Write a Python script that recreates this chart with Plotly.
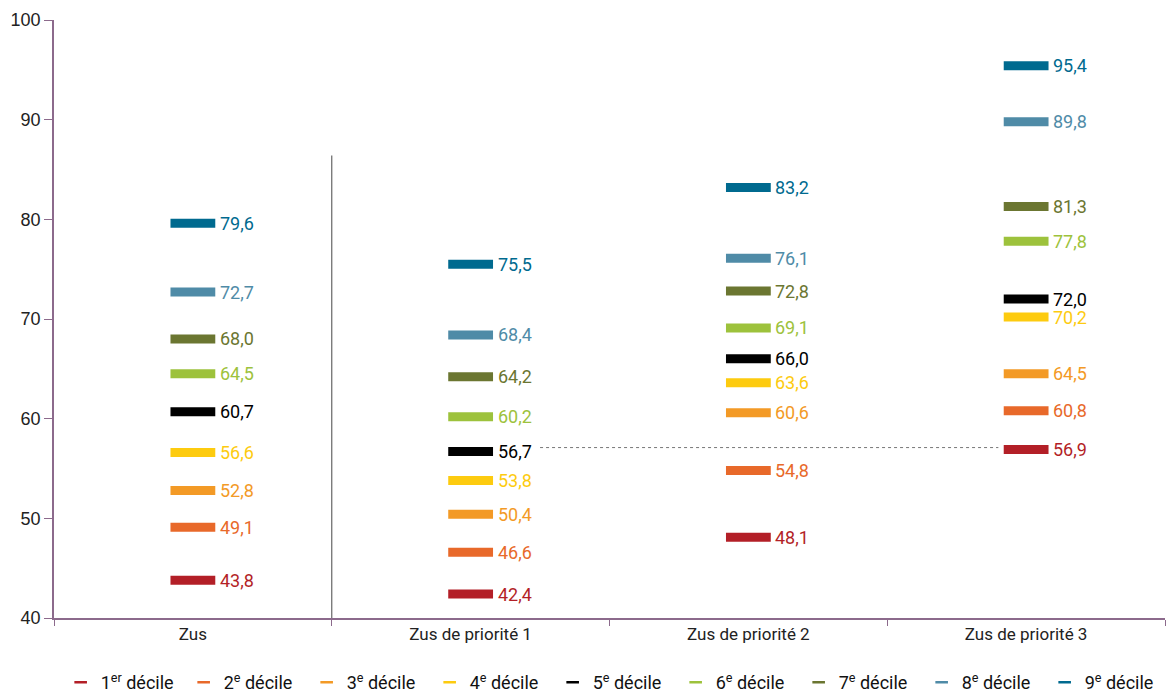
import plotly.graph_objects as go

categories = ["Zus", "Zus de priorité 1", "Zus de priorité 2", "Zus de priorité 3"]
decile_names = ["1<sup>er</sup> décile", "2<sup>e</sup> décile", "3<sup>e</sup> décile",
                "4<sup>e</sup> décile", "5<sup>e</sup> décile", "6<sup>e</sup> décile",
                "7<sup>e</sup> décile", "8<sup>e</sup> décile", "9<sup>e</sup> décile"]
colors = ["#B31F27", "#E8692A", "#F39A26", "#FDCB0F", "#000000",
          "#9DC23C", "#6B7631", "#4F8BA7", "#006A8F"]

zus = [43.8, 49.1, 52.8, 56.6, 60.7, 64.5, 68.0, 72.7, 79.6]
prio1 = [42.4, 46.6, 50.4, 53.8, 56.7, 60.2, 64.2, 68.4, 75.5]
prio2 = [48.1, 54.8, 60.6, 63.6, 66.0, 69.1, 72.8, 76.1, 83.2]
prio3 = [56.9, 60.8, 64.5, 70.2, 72.0, 77.8, 81.3, 89.8, 95.4]
series = [zus, prio1, prio2, prio3]

y_ticks = [40, 50, 60, 70, 80, 90, 100]

FONT = "Roboto, Liberation Sans Narrow, sans-serif"
AXIS_COLOR = "#8C6A8C"

fig = go.Figure()

for i, (name, col) in enumerate(zip(decile_names, colors)):
    vals = [s[i] for s in series]
    fig.add_trace(go.Scatter(
        x=categories, y=vals, mode="markers",
        marker=dict(symbol="line-ew-open", size=32, color=col,
                    line=dict(width=9, color=col)),
        showlegend=False, hoverinfo="skip", cliponaxis=False,
    ))
    for c, v in zip(categories, vals):
        fig.add_annotation(x=c, y=v, xref="x", yref="y", text=f"{v:.1f}".replace(".", ","),
                           showarrow=False, xanchor="left", yanchor="middle", xshift=25,
                           font=dict(family=FONT, size=18, color=col))
    fig.add_trace(go.Scatter(
        x=[None], y=[None], mode="markers", name=name,
        marker=dict(symbol="line-ew-open", size=9, color=col,
                    line=dict(width=2.5, color=col)),
        showlegend=True,
    ))

# separator line between Zus and priority groups
fig.add_shape(type="line", xref="x", yref="y", x0=0.5, x1=0.5, y0=40, y1=86.4,
              line=dict(color="#666666", width=1.2))
# dotted reference line
fig.add_shape(type="line", xref="x", yref="y", x0=1.25, x1=2.9, y0=57.1, y1=57.1,
              line=dict(color="#777777", width=1, dash="dot"))

fig.update_layout(
    width=1166, height=697,
    margin=dict(l=54, r=1, t=20, b=79, autoexpand=False),
    plot_bgcolor="white", paper_bgcolor="white",
    font=dict(family=FONT, size=17, color="#222222"),
    legend=dict(orientation="h", x=0.006, xanchor="left", y=-0.077, yanchor="top",
                font=dict(family=FONT, size=18, color="#111111"),
                entrywidth=78, entrywidthmode="pixels", itemwidth=30,
                tracegroupgap=0),
    xaxis=dict(type="category", range=[-0.5, 3.5], showgrid=False,
               showline=True, linecolor=AXIS_COLOR, linewidth=1.5,
               ticks="outside", ticklen=6, tickcolor=AXIS_COLOR, tickson="boundaries",
               tickfont=dict(family=FONT, size=17, color="#222222")),
    yaxis=dict(range=[40, 100], tickvals=y_ticks, showgrid=False, zeroline=False,
               showline=True, linecolor=AXIS_COLOR, linewidth=1.5,
               ticks="outside", ticklen=8, tickcolor=AXIS_COLOR,
               tickfont=dict(family="Liberation Sans, Arial, sans-serif", size=18, color="#222222")),
)

fig.write_html("out.html", config={"displayModeBar": False},
               post_script="document.body.style.margin='0';document.body.style.overflow='hidden';")
